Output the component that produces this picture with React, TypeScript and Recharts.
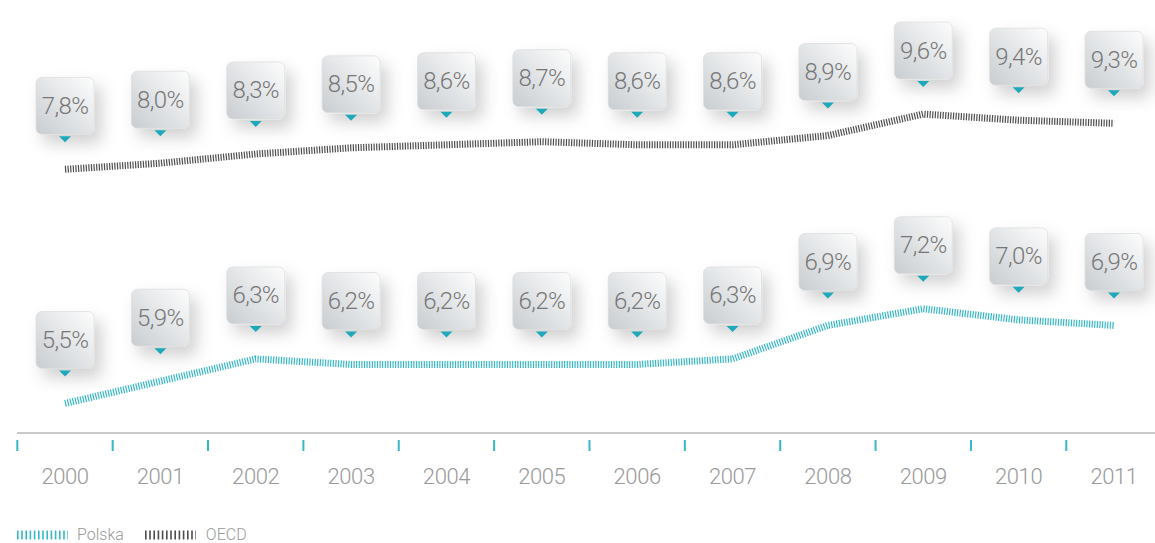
import { LineChart, Line, XAxis, YAxis, Legend, LabelList } from "recharts";

const years = ["2000", "2001", "2002", "2003", "2004", "2005", "2006", "2007", "2008", "2009", "2010", "2011"];
const oecd = [7.8, 8.0, 8.3, 8.5, 8.6, 8.7, 8.6, 8.6, 8.9, 9.6, 9.4, 9.3];
const polska = [5.5, 5.9, 6.3, 6.2, 6.2, 6.2, 6.2, 6.3, 6.9, 7.2, 7.0, 6.9];

const TEAL = "#35b8c8";
const DARK = "#4d4d4d";
const FONT = "Roboto, 'Open Sans', sans-serif";
const HALF_STEP = 47.7;

const data = years.map((year, i) => ({ year, oecd: oecd[i], polska: polska[i] }));

const fmt = (v: number) => v.toFixed(1).replace(".", ",") + "%";

const makeBubble = (series: string) => (props: any) => {
  const { x, y, value, index } = props;
  const w = 58;
  const h = 57;
  const bottom = y - 35;
  const top = bottom - h;
  const gid = `grad-${series}-${index}`;
  const fid = `shadow-${series}-${index}`;
  return (
    <g>
      <defs>
        <linearGradient id={gid} x1="1" y1="0" x2="0" y2="1">
          <stop offset="0%" stopColor="#fdfdfd" />
          <stop offset="100%" stopColor="#c8cdd1" />
        </linearGradient>
        <filter id={fid} x="-50%" y="-50%" width="220%" height="220%">
          <feDropShadow dx="7" dy="9" stdDeviation="8" floodColor="#000" floodOpacity="0.18" />
        </filter>
      </defs>
      <rect x={x - w / 2} y={top} width={w} height={h} rx={6} fill={`url(#${gid})`} stroke="#dedede" strokeWidth={0.8} filter={`url(#${fid})`} />
      <text x={x} y={top + h / 2 + 8} textAnchor="middle" fontFamily={FONT} fontWeight={300} fontSize={24} fill="#777" letterSpacing={-0.6}>
        {fmt(value)}
      </text>
      <polygon points={`${x - 6},${bottom + 2} ${x + 6},${bottom + 2} ${x},${bottom + 8}`} fill="#1ea9ba" />
    </g>
  );
};

const YearTick = (props: any) => {
  const { x, y, payload } = props;
  return (
    <g>
      <line x1={x - HALF_STEP} x2={x - HALF_STEP} y1={y + 7} y2={y + 18} stroke={TEAL} strokeWidth={2} />
      <text x={x} y={y + 51} textAnchor="middle" fontFamily={FONT} fontWeight={300} fontSize={22} fill="#999" letterSpacing={-0.4}>
        {payload.value}
      </text>
    </g>
  );
};

const Swatch = ({ color }: { color: string }) => (
  <svg width={51} height={10}>
    <line x1={0} x2={51} y1={5} y2={5} stroke={color} strokeWidth={9} strokeDasharray="1.6 2.6" />
  </svg>
);

const LegendContent = () => (
  <div style={{ display: "flex", alignItems: "center", fontFamily: FONT, fontSize: 16, color: "#999", fontWeight: 300 }}>
    <Swatch color={TEAL} />
    <span style={{ marginLeft: 9, marginRight: 21 }}>Polska</span>
    <Swatch color={DARK} />
    <span style={{ marginLeft: 10 }}>OECD</span>
  </div>
);

export default function App() {
  return (
    <div style={{ position: "absolute", left: 0, top: 0, width: 1155, height: 543, overflow: "hidden", background: "#fff" }}>
      <LineChart width={1170} height={543} data={data} margin={{ top: 10, right: 8, bottom: 50, left: 17 }}>
        <XAxis
          dataKey="year"
          height={60}
          padding={{ left: 48, right: 48 }}
          axisLine={{ stroke: "#c9c9c9", strokeWidth: 2 }}
          tickLine={false}
          tickSize={0}
          tickMargin={0}
          tick={<YearTick />}
          interval={0}
        />
        <YAxis yAxisId="o" hide domain={[-0.79, 12.99]} />
        <YAxis yAxisId="p" hide domain={[4.97, 12.56]} />
        <Legend
          layout="horizontal"
          verticalAlign="middle"
          align="center"
          wrapperStyle={{ top: 525, left: 17, width: 300, height: 20 }}
          content={<LegendContent />}
        />
        <Line
          yAxisId="o"
          dataKey="oecd"
          name="OECD"
          stroke={DARK}
          strokeWidth={7}
          strokeDasharray="1.2 1.4"
          dot={false}
          activeDot={false}
          isAnimationActive={false}
        >
          <LabelList dataKey="oecd" content={makeBubble("o")} />
        </Line>
        <Line
          yAxisId="p"
          dataKey="polska"
          name="Polska"
          stroke={TEAL}
          strokeWidth={7}
          strokeDasharray="1.2 1.4"
          dot={false}
          activeDot={false}
          isAnimationActive={false}
        >
          <LabelList dataKey="polska" content={makeBubble("p")} />
        </Line>
      </LineChart>
    </div>
  );
}
